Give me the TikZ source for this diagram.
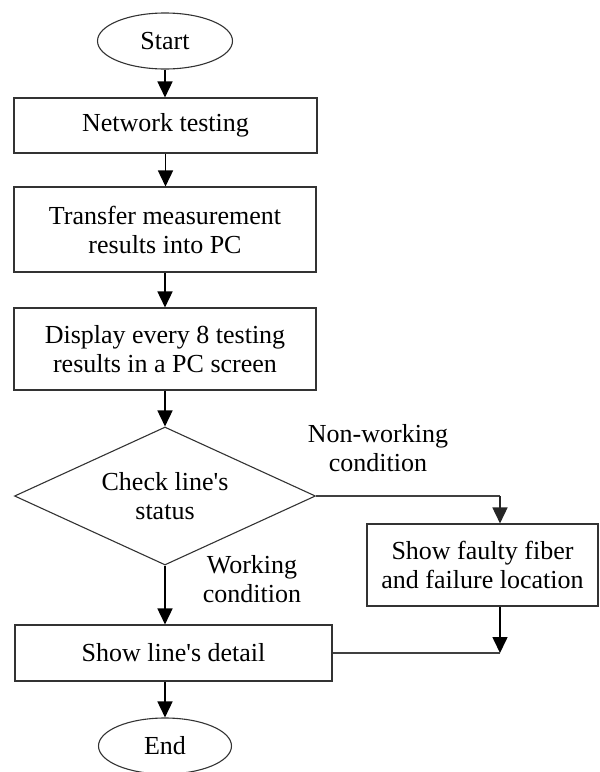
\documentclass[tikz,border=0pt]{standalone}
\usepackage{fontspec}
\setmainfont{Liberation Serif}
\usetikzlibrary{shapes.geometric,arrows.meta}
\begin{document}
\begin{tikzpicture}[x=1pt,y=-1pt,
  every node/.style={font=\fontsize{26}{29}\selectfont},
  box/.style={draw=black!80,line width=1.1pt,rectangle,align=center,inner sep=0pt},
  term/.style={draw=black!80,line width=1.1pt,ellipse,inner sep=0pt},
  decis/.style={draw=black!80,line width=1.1pt,diamond,shape aspect=2.18,align=center,inner sep=2pt,minimum width=301pt,minimum height=138pt},
  lbl/.style={align=center,inner sep=0pt},
  arr/.style={line width=1.6pt,-{Triangle[length=16pt,width=15pt]}},
  con/.style={draw=black!75,line width=1.3pt}]
\useasboundingbox (0,0) rectangle (600,772);
\node[term,minimum width=135pt,minimum height=56pt] (start) at (165,41) {Start};
\node[box,minimum width=303pt,minimum height=55pt] (net) at (165.5,125.5) {Network testing};
\node[box,minimum width=302pt,minimum height=85pt] (xfer) at (165,229.5) {Transfer measurement\\results into PC};
\node[box,minimum width=302pt,minimum height=82pt] (disp) at (165,349) {Display every 8 testing\\results in a PC screen};
\node[decis] (check) at (165,496) {Check line\textquotesingle s\\status};
\node[lbl] (nonwork) at (378,448) {Non-working\\condition};
\node[box,minimum width=231pt,minimum height=82pt] (fault) at (482.5,565) {Show faulty fiber\\and failure location};
\node[lbl] (work) at (252,579) {Working\\condition};
\node[box,minimum width=317pt,minimum height=56pt] (detail) at (173.5,653) {Show line\textquotesingle s detail};
\node[term,minimum width=133pt,minimum height=56pt] (end) at (165,746) {End};
\coordinate (rx) at (500,0);
\draw[arr] (start) -- (start |- net.north);
\draw[arr] (net) -- (net |- xfer.north);
\draw[arr] (xfer) -- (xfer |- disp.north);
\draw[arr] (check.north |- disp.south) -- (check.north);
\draw[con] (check.east) -- (rx |- check.east);
\draw[arr,draw=black!85] (rx |- check.east) -- (rx |- fault.north);
\draw[arr] (check.south) -- (check.south |- detail.north);
\draw[arr] (rx |- fault.south) -- (rx |- detail.east);
\draw[con] (rx |- detail.east) -- (detail.east);
\draw[arr] (end.north |- detail.south) -- (end.north);
\end{tikzpicture}
\end{document}
